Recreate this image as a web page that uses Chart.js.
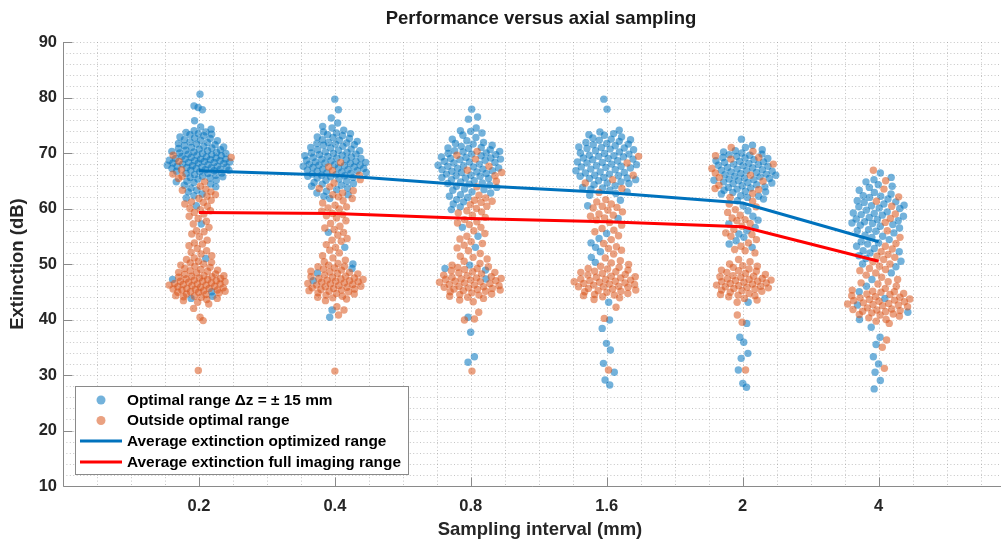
<!DOCTYPE html>
<html><head><meta charset="utf-8">
<script src="https://cdn.jsdelivr.net/npm/chart.js@4.4.1/dist/chart.umd.min.js"></script>
<style>html,body{margin:0;padding:0;background:#fff;overflow:hidden}#wrap{width:1005px;height:544px;position:relative}</style>
</head><body><div id="wrap"><canvas id="c" width="1005" height="544"></canvas></div>
<script>
const categories = ['0.2','0.4','0.8','1.6','2','4'];
const yTickValues = [10,20,30,40,50,60,70,80,90];
const titleText = 'Performance versus axial sampling';
const xTitle = 'Sampling interval (mm)';
const yTitle = 'Extinction (dB)';
const seriesNames = ['Optimal range \u0394z = \u00b1 15 mm','Outside optimal range','Average extinction optimized range','Average extinction full imaging range'];

// Optimal range points (dB) per category
const optimal_02 = [80.6,78.5,78.2,77.8,75.8,74.7,74.3,74.0,73.7,73.5,73.3,73.1,72.9,72.6,72.4,72.2,72.0,71.9,71.6,71.5,71.3,71.1,71.0,70.8,70.7,70.6,70.4,70.3,70.1,70.0,69.9,69.8,69.7,69.5,69.4,69.3,69.2,69.1,69.0,68.9,68.9,68.8,68.7,68.6,68.5,68.4,68.3,68.2,68.2,68.1,68.0,67.9,67.8,67.7,67.6,67.5,67.5,67.4,67.3,67.2,67.1,67.0,66.9,66.8,66.7,66.6,66.4,66.3,66.1,66.0,65.8,65.7,65.5,65.3,65.1,64.9,64.7,64.4,64.2,63.9,63.7,63.3,63.0,62.6,62.3,61.9,60.5,57.2,51.0,47.2,45.0,44.2,43.8,
  73.8,72.3,71.7,70.9,70.2,69.6,68.9,68.3,67.6,66.9,66.3,65.6,64.8,72.7,71.2,69.9,68.6,67.2,73.4,70.5];
const optimal_04 = [79.7,77.8,76.3,75.4,74.8,74.5,74.1,73.8,73.5,73.3,73.1,72.8,72.6,72.4,72.1,71.9,71.7,71.6,71.4,71.2,71.0,70.9,70.7,70.6,70.4,70.2,70.1,69.9,69.8,69.7,69.5,69.4,69.3,69.1,69.0,68.9,68.8,68.6,68.5,68.4,68.3,68.1,68.0,67.9,67.8,67.7,67.6,67.4,67.3,67.2,67.1,67.0,66.9,66.8,66.7,66.5,66.4,66.3,66.2,66.0,65.9,65.8,65.6,65.5,65.3,65.1,64.9,64.7,64.5,64.2,64.0,63.7,63.4,63.1,62.8,62.5,62.2,61.8,55.7,53.0,50.0,49.2,48.4,47.0,41.7,40.4,
  73.6,72.3,71.5,70.5,69.6,68.7,67.5,66.6,65.7,64.4,72.9,70.0,68.2,66.1,71.8,69.2,67.8];
const optimal_08 = [77.9,76.5,76.1,74.5,74.0,73.6,73.2,72.8,72.5,72.2,71.9,71.6,71.4,71.2,71.0,70.8,70.6,70.4,70.2,70.0,69.8,69.7,69.5,69.3,69.2,69.0,68.8,68.7,68.5,68.3,68.2,68.0,67.8,67.7,67.5,67.3,67.2,67.0,66.8,66.7,66.5,66.3,66.2,66.0,65.8,65.6,65.4,65.2,65.0,64.8,64.6,64.4,64.2,64.0,63.8,63.5,63.3,63.0,62.8,62.5,62.2,62.0,61.6,61.2,60.8,60.3,59.8,56.6,55.0,53.0,49.8,49.2,48.9,47.3,40.4,37.7,33.3,32.3,
  71.7,70.9,69.9,69.1,68.4,67.6,66.6,65.5,64.5,63.4,70.3,68.9,67.1,65.9,73.9];
const optimal_16 = [79.7,77.9,74.1,73.8,73.5,73.2,72.9,72.7,72.5,72.3,72.1,71.9,71.7,71.5,71.3,71.1,70.9,70.8,70.6,70.4,70.2,70.0,69.8,69.6,69.5,69.3,69.1,68.9,68.8,68.6,68.4,68.2,68.0,67.9,67.7,67.5,67.3,67.1,67.0,66.8,66.6,66.4,66.2,66.0,65.8,65.6,65.4,65.2,65.0,64.8,64.5,64.3,64.1,63.8,63.5,63.3,63.0,62.7,62.4,61.5,60.5,58.2,55.5,54.6,53.8,53.0,52.2,51.2,50.3,43.1,39.9,38.4,35.7,34.5,32.1,30.5,29.1,28.2,
  72.4,71.6,70.7,69.9,69.0,68.3,67.4,66.5,65.5,64.6,63.7,71.0,69.4,67.6,65.9,73.3];
const optimal_2 = [72.5,71.4,71.0,70.6,70.2,70.0,69.8,69.6,69.4,69.2,69.0,68.8,68.6,68.5,68.3,68.1,67.9,67.8,67.6,67.4,67.3,67.1,66.9,66.8,66.6,66.5,66.3,66.1,66.0,65.8,65.7,65.5,65.3,65.2,65.0,64.8,64.7,64.5,64.3,64.1,63.9,63.7,63.5,63.3,63.1,62.9,62.6,62.3,62.0,61.7,61.4,60.5,59.6,58.6,57.9,57.2,56.6,56.0,55.4,54.8,54.2,53.6,53.0,43.1,39.3,36.8,35.9,33.9,33.0,30.9,28.5,27.8,
  69.7,69.1,68.4,67.7,67.0,66.2,65.4,64.6,63.8,63.0,68.0,66.7,65.1,70.4,62.2];
const optimal_4 = [66.4,65.6,65.2,64.8,64.3,63.8,63.3,62.9,62.6,62.3,62.0,61.7,61.4,61.1,60.8,60.5,60.3,60.0,59.7,59.4,59.2,58.9,58.6,58.4,58.1,57.8,57.6,57.3,57.0,56.8,56.5,56.2,55.9,55.6,55.2,54.8,54.4,54.0,53.6,53.2,52.8,52.4,52.0,51.5,51.0,50.5,50.0,49.5,48.4,47.2,46.0,45.0,43.8,42.6,41.3,40.0,38.6,36.8,35.5,33.3,32.0,30.5,29.0,27.5,
  62.2,61.2,60.1,59.1,58.0,57.1,56.0,55.0,53.8,60.6,58.8,57.4,64.0,52.2];

// Outside optimal range points (dB) per category
const outside_02 = [69.6,69.2,68.5,67.0,66.2,65.4,64.8,64.0,63.5,63.0,62.5,62.2,61.8,61.5,61.1,60.8,60.4,60.0,59.6,59.3,59.0,58.6,58.2,57.7,57.2,56.6,56.0,55.4,54.9,54.3,53.8,53.3,52.8,52.4,52.1,51.8,51.5,51.1,50.8,50.5,50.2,50.0,49.8,49.6,49.4,49.2,49.0,48.9,48.7,48.5,48.4,48.2,48.1,47.9,47.8,47.7,47.5,47.4,47.3,47.2,47.1,47.0,46.9,46.8,46.7,46.6,46.5,46.4,46.3,46.2,46.1,46.0,45.9,45.8,45.7,45.6,45.5,45.4,45.3,45.2,45.1,45.0,44.9,44.8,44.6,44.5,44.3,44.2,44.0,43.8,43.6,43.4,43.1,42.8,42.0,40.4,39.8,30.8,
  48.8,47.6,46.9,46.2,45.6,44.9,44.1,47.9,46.4,45.3,61.2,59.8,55.8,53.6,50.3,65.8,63.3];
const outside_04 = [68.3,67.5,66.8,66.0,65.2,64.6,63.9,63.2,62.8,62.5,62.1,61.8,61.4,61.0,60.6,60.3,59.9,59.5,59.1,58.7,58.3,57.8,57.3,56.8,56.2,55.7,55.2,54.6,54.1,53.5,53.0,52.5,52.0,51.5,51.1,50.7,50.4,50.1,49.8,49.5,49.3,49.1,48.9,48.7,48.5,48.3,48.2,48.0,47.8,47.7,47.5,47.4,47.3,47.1,47.0,46.9,46.8,46.6,46.5,46.4,46.3,46.1,46.0,45.9,45.8,45.6,45.5,45.4,45.2,45.1,45.0,44.8,44.6,44.4,44.2,44.0,43.7,43.4,42.3,41.7,40.8,30.7,
  48.6,47.6,46.7,45.7,44.7,43.9,47.2,46.2,45.3,49.6,60.1,58.9,56.5,54.3,63.6];
const outside_08 = [70.3,69.6,68.9,67.6,66.9,65.9,64.9,63.9,62.4,61.9,61.5,61.1,60.7,60.4,60.0,59.6,59.2,58.8,58.4,58.0,57.6,57.1,56.6,56.0,55.5,55.0,54.5,54.0,53.4,52.9,52.4,51.9,51.4,50.9,50.5,50.1,49.8,49.5,49.2,49.0,48.8,48.6,48.4,48.2,48.0,47.9,47.7,47.6,47.4,47.3,47.1,47.0,46.9,46.7,46.6,46.5,46.3,46.2,46.1,45.9,45.8,45.7,45.5,45.4,45.3,45.1,45.0,44.8,44.6,44.4,44.2,44.0,43.8,43.5,43.2,41.3,40.1,39.9,30.7,
  48.5,47.5,46.8,45.6,44.5,47.2,46.0,45.2,49.4,61.3,59.4,57.4,53.7,51.2,66.5];
const outside_16 = [69.4,68.2,66.0,64.6,63.6,62.9,61.6,61.2,60.8,60.4,60.1,59.7,59.4,59.0,58.6,58.3,57.9,57.5,57.0,56.4,55.8,55.1,54.4,53.7,53.1,52.5,51.8,51.1,50.6,50.2,49.9,49.6,49.4,49.1,48.9,48.7,48.5,48.3,48.1,48.0,47.8,47.6,47.5,47.3,47.2,47.0,46.9,46.7,46.6,46.5,46.3,46.2,46.0,45.9,45.8,45.6,45.5,45.3,45.2,45.0,44.9,44.7,44.5,44.3,44.1,43.9,43.6,42.2,40.2,30.9,
  48.6,47.7,46.8,45.9,45.1,44.4,47.1,46.4,49.2,60.2,58.8,56.1,52.8,65.2];
const outside_2 = [71.0,70.3,69.5,68.9,68.0,67.2,66.4,65.6,64.9,64.2,63.4,62.7,62.0,61.3,60.8,60.3,59.8,59.3,58.8,58.3,57.8,57.3,56.8,56.2,55.6,55.0,54.4,53.8,53.2,52.6,52.0,50.8,50.4,50.0,49.7,49.4,49.1,48.9,48.7,48.5,48.3,48.1,47.9,47.8,47.6,47.4,47.3,47.1,47.0,46.8,46.7,46.5,46.4,46.2,46.1,45.9,45.8,45.6,45.5,45.3,45.1,44.9,44.7,44.5,44.3,44.1,43.8,43.5,43.1,40.8,39.5,30.9,
  48.8,47.7,46.9,46.0,45.2,44.4,47.2,46.6,45.7,49.6,58.0,55.3,52.4,69.2,66.0,63.6];
const outside_4 = [66.9,65.0,63.5,62.1,60.4,59.0,57.5,56.0,54.8,53.7,53.2,52.7,52.2,51.7,51.2,50.8,50.4,50.0,49.6,49.2,48.8,48.4,48.0,47.6,47.2,46.8,46.4,46.0,45.6,45.3,45.1,44.9,44.7,44.5,44.3,44.1,43.9,43.7,43.5,43.3,43.2,43.0,42.8,42.6,42.5,42.3,42.1,41.9,41.8,41.6,41.4,41.2,41.0,40.8,40.6,40.3,40.0,39.7,39.3,36.3,35.0,31.2,
  44.6,43.6,42.7,41.7,40.9,44.0,42.9,41.5,43.4,45.0,51.4,49.0,46.6,58.2,61.3];

// Average lines (dB)
const avgOptimized = [66.8,66.0,64.2,62.9,61.0,54.0];
const avgFull = [59.3,59.1,58.2,57.6,56.7,50.5];

const optimalSeries = [optimal_02,optimal_04,optimal_08,optimal_16,optimal_2,optimal_4];
const outsideSeries = [outside_02,outside_04,outside_08,outside_16,outside_2,outside_4];

const BLUE = 'rgb(0,114,189)', RED = 'rgb(255,0,0)';
const BLUE_PT = 'rgba(0,114,189,0.55)', ORANGE_PT = 'rgba(217,83,25,0.55)';
const FONT = '"Liberation Sans", Arial, Helvetica, sans-serif';
const HALF = 0.245;

// swarm layout: horizontal spread grows with local density (deterministic golden-ratio spacing)
function swarm(ci){
  const pts = [];
  optimalSeries[ci].forEach(v=>pts.push({y:v,s:0}));
  outsideSeries[ci].forEach(v=>pts.push({y:v,s:1}));
  const bw = 1.3;
  pts.forEach(p=>{let d=0;pts.forEach(q=>{const z=(p.y-q.y)/bw;d+=Math.exp(-0.5*z*z);});p.d=d;});
  const maxD = Math.max(...pts.map(p=>p.d));
  const sorted = pts.slice().sort((a,b)=>a.y-b.y||a.s-b.s);
  sorted.forEach((p,k)=>{
    const u = 2*((k*0.6180339887+0.37+ci*0.13)%1)-1;
    p.x = ci+1 + u*HALF*Math.pow(p.d/maxD,0.7);
  });
  return pts;
}
const blueData=[], orangeData=[];
categories.forEach((c,ci)=>{swarm(ci).forEach(p=>{(p.s===0?blueData:orangeData).push({x:p.x,y:p.y});});});
const avgOptData = avgOptimized.map((v,i)=>({x:i+1,y:v}));
const avgFullData = avgFull.map((v,i)=>({x:i+1,y:v}));

const decor = {
  id:'decor',
  beforeDatasetsDraw(chart){
    const {ctx,chartArea:a,scales:{x,y}} = chart;
    ctx.save();
    ctx.strokeStyle='rgba(150,150,150,0.55)';ctx.lineWidth=1;ctx.setLineDash([1,2.4]);
    for(let v=0.25; v<=x.max+1e-9; v+=0.25){const px=Math.round(x.getPixelForValue(v))+0.5;ctx.beginPath();ctx.moveTo(px,a.top);ctx.lineTo(px,a.bottom);ctx.stroke();}
    for(let v=12; v<=90; v+=2){const py=Math.round(y.getPixelForValue(v))+0.5;ctx.beginPath();ctx.moveTo(a.left,py);ctx.lineTo(a.right,py);ctx.stroke();}
    ctx.restore();
  },
  afterDraw(chart){
    const {ctx,chartArea:a,scales:{x,y}} = chart;
    ctx.save();
    ctx.strokeStyle='#8a8a8a';ctx.lineWidth=1;ctx.setLineDash([]);
    const ax=Math.round(a.left)+0.5, ay=Math.round(a.bottom)+0.5;
    ctx.beginPath();ctx.moveTo(ax,a.top);ctx.lineTo(ax,ay);ctx.lineTo(a.right,ay);ctx.stroke();
    yTickValues.forEach(v=>{const py=Math.round(y.getPixelForValue(v))+0.5;ctx.beginPath();ctx.moveTo(ax,py);ctx.lineTo(ax+9,py);ctx.stroke();});
    categories.forEach((c,i)=>{const px=Math.round(x.getPixelForValue(i+1))+0.5;ctx.beginPath();ctx.moveTo(px,ay);ctx.lineTo(px,ay-9);ctx.stroke();});
    ctx.fillStyle='#1a1a1a';ctx.textAlign='center';ctx.textBaseline='middle';
    ctx.font='bold 18.5px '+FONT;
    ctx.fillText(titleText,541,19);
    ctx.fillStyle='#262626';
    ctx.fillText(xTitle,540,530);
    ctx.save();ctx.translate(18,264);ctx.rotate(-Math.PI/2);ctx.fillText(yTitle,0,0);ctx.restore();
    const lx=75.5, ly=386.5, lw=333, lh=88;
    ctx.fillStyle='#fff';ctx.fillRect(lx,ly,lw,lh);
    ctx.strokeStyle='#8a8a8a';ctx.strokeRect(lx,ly,lw,lh);
    const rows=[400,420.5,441,462];
    ctx.fillStyle=BLUE_PT;ctx.beginPath();ctx.arc(101,rows[0],4.5,0,Math.PI*2);ctx.fill();
    ctx.fillStyle=ORANGE_PT;ctx.beginPath();ctx.arc(101,rows[1],4.5,0,Math.PI*2);ctx.fill();
    ctx.lineWidth=3;ctx.strokeStyle=BLUE;ctx.beginPath();ctx.moveTo(80,rows[2]);ctx.lineTo(122,rows[2]);ctx.stroke();
    ctx.strokeStyle=RED;ctx.beginPath();ctx.moveTo(80,rows[3]);ctx.lineTo(122,rows[3]);ctx.stroke();
    ctx.fillStyle='#000';ctx.textAlign='left';ctx.font='bold 15.4px '+FONT;
    seriesNames.forEach((t,i)=>ctx.fillText(t,127,rows[i]+0.5));
    ctx.restore();
  }
};

new Chart(document.getElementById('c'),{
  type:'scatter',
  data:{datasets:[
    {label:seriesNames[2],type:'line',data:avgOptData,borderColor:BLUE,borderWidth:3,pointRadius:0,fill:false,order:0},
    {label:seriesNames[3],type:'line',data:avgFullData,borderColor:RED,borderWidth:3,pointRadius:0,fill:false,order:0},
    {label:seriesNames[1],data:orangeData,backgroundColor:ORANGE_PT,borderWidth:0,pointRadius:3.7,order:1},
    {label:seriesNames[0],data:blueData,backgroundColor:BLUE_PT,borderWidth:0,pointRadius:3.7,order:2}
  ]},
  options:{
    responsive:false,animation:false,devicePixelRatio:1,
    layout:{padding:{top:42,left:0,right:0,bottom:0}},
    plugins:{legend:{display:false},tooltip:{enabled:false},title:{display:false}},
    scales:{
      x:{type:'linear',min:0,max:6.9,
        afterBuildTicks(s){s.ticks=categories.map((c,i)=>({value:i+1}));},
        afterFit(s){s.height=58;},
        grid:{display:false,drawTicks:false},border:{display:false},
        ticks:{autoSkip:false,maxRotation:0,padding:11,color:'#262626',font:{family:FONT,size:16.5,weight:'bold'},callback:(v)=>categories[Math.round(v)-1]}},
      y:{type:'linear',min:10,max:90,
        afterBuildTicks(s){s.ticks=yTickValues.map(v=>({value:v}));},
        afterFit(s){s.width=63;},
        grid:{display:false,drawTicks:false},border:{display:false},
        ticks:{padding:6,color:'#262626',font:{family:FONT,size:16.5,weight:'bold'}}}
    }
  },
  plugins:[decor]
});
</script></body></html>
